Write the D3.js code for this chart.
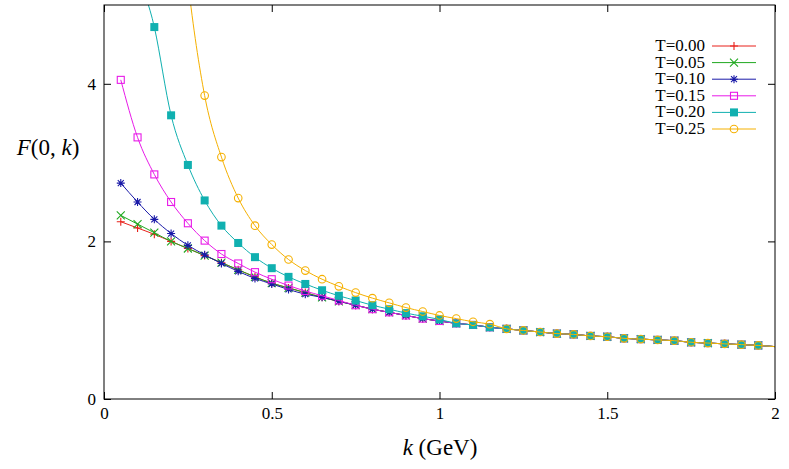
<!DOCTYPE html>
<html><head><meta charset="utf-8">
<script src="https://cdn.jsdelivr.net/npm/d3@7"></script>
<style>body{margin:0;background:#fff}svg text{font-family:"Liberation Serif","DejaVu Serif","Times New Roman",serif !important}</style>
</head><body><svg width="789" height="469"></svg>
<script>
var kVals = [0.05,0.10,0.15,0.20,0.25,0.30,0.35,0.40,0.45,0.50,0.55,0.60,0.65,0.70,0.75,0.80,0.85,0.90,0.95,1.00,
  1.05,1.10,1.15,1.20,1.25,1.30,1.35,1.40,1.45,1.50,1.55,1.60,1.65,1.70,1.75,1.80,1.85,1.90,1.95];
var base = [2.25,2.17,2.09,2.00,1.91,1.82,1.73,1.64,1.55,1.47,1.41,1.35,1.29,1.24,1.19,1.14,1.10,1.06,1.02,0.99,
  0.96,0.94,0.91,0.89,0.87,0.85,0.83,0.82,0.80,0.79,0.77,0.76,0.75,0.74,0.72,0.71,0.70,0.69,0.68];
var endValue = 0.665; // value at k = 2 where the curves end (no marker)
var t005 = [2.33,2.22,2.11,2.00];
var t010 = [2.74,2.50,2.28,2.10,1.95,1.83,1.72,1.62,1.53,1.46,1.39,1.33];
var t015 = [4.05,3.32,2.85,2.50,2.23,2.01,1.84,1.72,1.61,1.52,1.44,1.37,1.31,1.25,1.19,1.14];
var t020 = [6.8,5.5,4.72,3.60,2.97,2.52,2.20,1.98,1.80,1.66,1.55,1.46,1.38,1.31,1.25,1.19,1.14,1.09,1.05,1.01];
var t025 = [null,null,null,7.5,5.3,3.85,3.07,2.55,2.20,1.96,1.77,1.63,1.52,1.43,1.35,1.28,1.22,1.16,1.11,1.06,1.02,0.98,0.95];
var labels = ["T=0.00","T=0.05","T=0.10","T=0.15","T=0.20","T=0.25"];
var colors = ["#e8201a","#1fa81f","#1a1aa8","#e81ae8","#10b0b0","#f5b000"];
var shapes = ["plus","cross","star","sq","fsq","circ"];
var xTicks = [0,0.5,1,1.5,2], yTicks = [0,2,4];

function series(arr){
  var s = kVals.map(function(k,i){ return {k:k, v: i<arr.length ? arr[i] : base[i], m:true}; }).filter(function(d){return d.v!=null;});
  s.push({k:2, v:endValue, m:false});
  return s;
}
var all = [base,t005,t010,t015,t020,t025].map(series);
var svg = d3.select("svg");
var L=104,R=775,T=5,B=399;
var x = d3.scaleLinear().domain([0,2]).range([L,R]);
var y = d3.scaleLinear().domain([0,5]).range([B,T]);

svg.append("clipPath").attr("id","c").append("rect").attr("x",L).attr("y",T).attr("width",R-L).attr("height",B-T);
var line = d3.line().curve(d3.curveMonotoneX).x(function(d){return x(d.k);}).y(function(d){return y(d.v);});
var g = svg.append("g").attr("clip-path","url(#c)");

function marker(sel, s, c, cx, cy){
  var m = sel.append("g").attr("transform","translate("+cx+","+cy+")");
  if(s=="plus") m.append("path").attr("d","M-4,0H4M0,-4V4").attr("stroke",c).attr("stroke-width",1.1);
  if(s=="cross") m.append("path").attr("d","M-4,-4L4,4M-4,4L4,-4").attr("stroke",c).attr("stroke-width",1.1);
  if(s=="star") m.append("path").attr("d","M-4,0H4M0,-4V4M-3,-3L3,3M-3,3L3,-3").attr("stroke",c).attr("stroke-width",1.1);
  if(s=="sq") m.append("rect").attr("x",-3.5).attr("y",-3.5).attr("width",7).attr("height",7).attr("fill","none").attr("stroke",c).attr("stroke-width",1.1);
  if(s=="fsq") m.append("rect").attr("x",-4).attr("y",-4).attr("width",8).attr("height",8).attr("fill",c);
  if(s=="circ") m.append("circle").attr("r",3.8).attr("fill","none").attr("stroke",c).attr("stroke-width",1.1);
}

all.forEach(function(d,i){
  g.append("path").datum(d).attr("d",line).attr("fill","none").attr("stroke",colors[i]).attr("stroke-width",1);
  d.forEach(function(p){ if(p.m && p.v<=5) marker(g, shapes[i], colors[i], x(p.k), y(p.v)); });
});

// frame and ticks
svg.append("rect").attr("x",L).attr("y",T).attr("width",R-L).attr("height",B-T).attr("fill","none").attr("stroke","#000");
svg.append("g").attr("transform","translate(0,"+B+")").call(d3.axisBottom(x).tickValues(xTicks).tickSize(-7).tickPadding(8).tickFormat(d3.format("")))
  .call(function(a){a.select(".domain").remove();});
svg.append("g").attr("transform","translate(0,"+T+")").call(d3.axisTop(x).tickValues(xTicks).tickSize(-7).tickFormat(""))
  .call(function(a){a.select(".domain").remove();});
svg.append("g").attr("transform","translate("+L+",0)").call(d3.axisLeft(y).tickValues(yTicks).tickSize(-7).tickPadding(8).tickFormat(d3.format("")))
  .call(function(a){a.select(".domain").remove();});
svg.append("g").attr("transform","translate("+R+",0)").call(d3.axisRight(y).tickValues(yTicks).tickSize(-7).tickFormat(""))
  .call(function(a){a.select(".domain").remove();});
svg.selectAll(".tick text").attr("font-size",17).attr("fill","#000");

svg.append("text").attr("x",440).attr("y",455).attr("text-anchor","middle").attr("font-size",23)
  .html('<tspan font-style="italic">k</tspan> (GeV)');
svg.append("text").attr("x",48).attr("y",155).attr("text-anchor","middle").attr("font-size",23)
  .html('<tspan font-style="italic">F</tspan>(0, <tspan font-style="italic">k</tspan>)');

// legend
labels.forEach(function(l,i){
  var yy = 46 + i*16.6;
  svg.append("text").attr("x",705).attr("y",yy+5).attr("text-anchor","end").attr("font-size",17).text(l);
  svg.append("line").attr("x1",712).attr("x2",756).attr("y1",yy).attr("y2",yy).attr("stroke",colors[i]);
  marker(svg, shapes[i], colors[i], 734, yy);
});
</script></body></html>
